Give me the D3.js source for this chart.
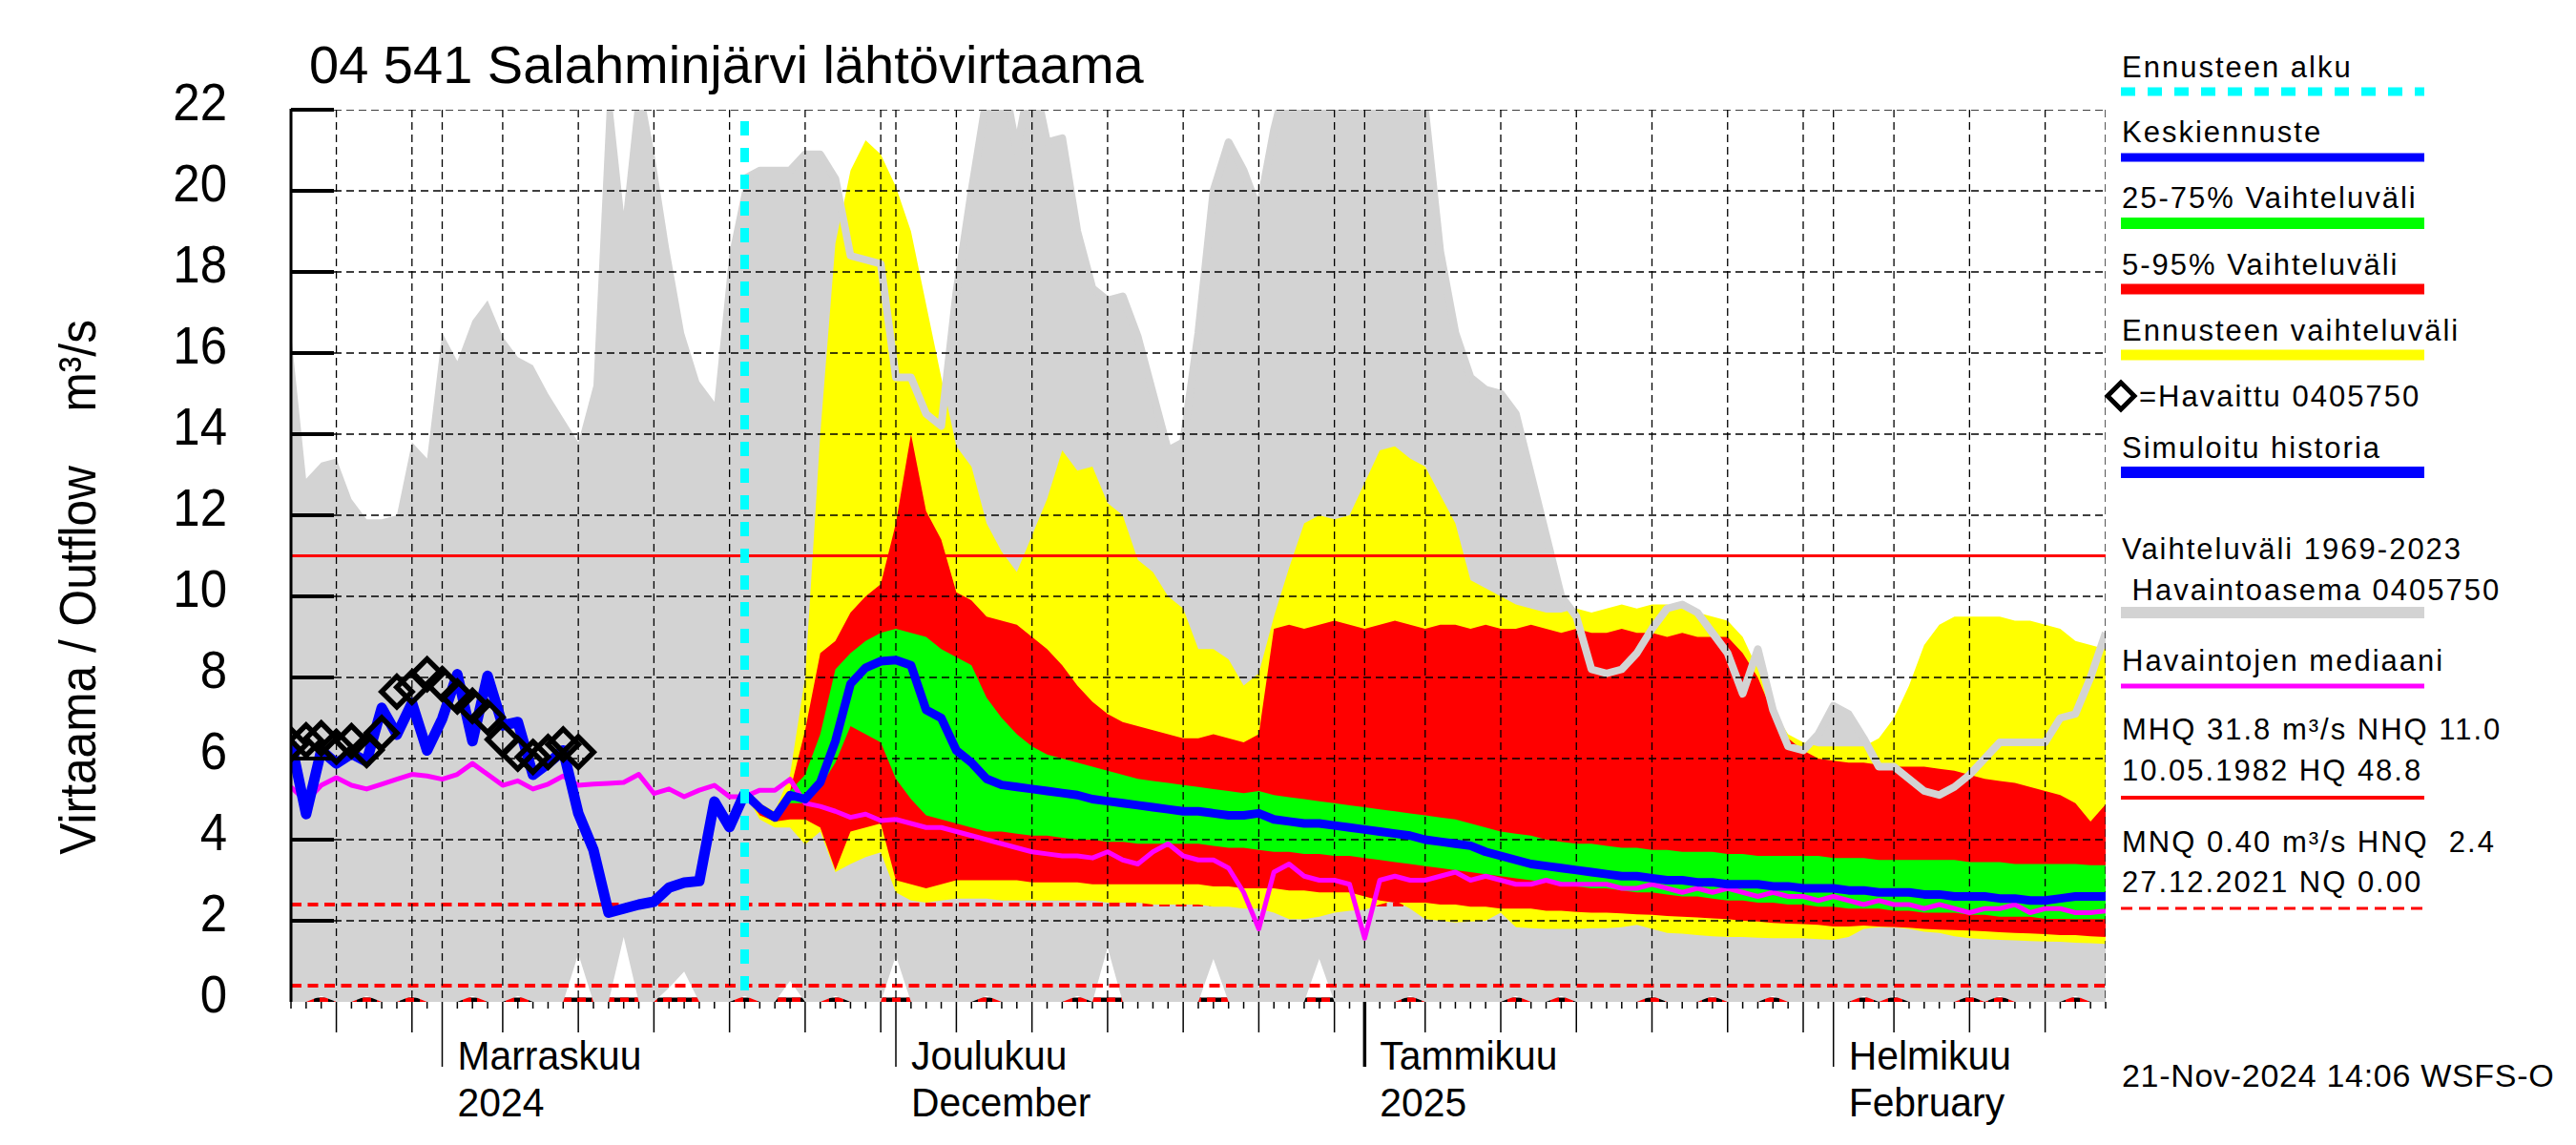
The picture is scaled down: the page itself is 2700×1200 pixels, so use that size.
<!DOCTYPE html>
<html>
<head>
<meta charset="utf-8">
<script src="https://cdn.jsdelivr.net/npm/d3@7"></script>
<style>
  body { margin: 0; background: #fff; }
  svg { display: block; }
  text { font-family: "Liberation Sans", Arial, Helvetica, sans-serif; fill: #000; white-space: pre; }
</style>
</head>
<body>
<div id="chart"></div>
<script>
// ---- data (daily values, day 0 = 22.10.2024) ----
const START = new Date(Date.UTC(2024, 9, 22));
const END = new Date(Date.UTC(2025, 1, 19));
const FC_DAY = 30; // 21.11.2024, forecast start

// Vaihteluväli 1969-2023 (max / min), day 0..120
const histMax = [16.5,12.9,13.3,13.4,12.4,11.9,11.9,12.0,13.8,13.4,
  16.5,15.8,16.8,17.3,16.4,15.9,15.7,15.0,14.4,13.8,
  15.2,23.0,19.5,23.0,21.0,18.6,16.5,15.3,14.8,18.5,
  20.3,20.5,20.5,20.5,20.9,20.9,20.3,18.4,18.3,18.2,
  15.4,15.4,14.5,14.2,17.5,20.0,22.3,23.0,21.0,23.0,
  21.2,21.3,19.0,17.6,17.3,17.4,16.4,15.0,13.6,13.8,
  16.5,20.0,21.2,20.5,19.5,21.5,23,23,23,23,
  23,23,23,23,23,22.0,18.5,16.5,15.4,15.1,
  15.0,14.5,13.0,11.5,10.0,9.5,8.2,8.1,8.2,8.6,
  9.2,9.7,9.8,9.6,9.1,8.6,7.6,8.7,7.2,6.3,
  6.2,6.6,7.3,7.1,6.5,5.8,5.8,5.5,5.2,5.1,
  5.3,5.6,6.0,6.4,6.4,6.4,6.4,7.0,7.1,8.0,
  9.1];
const histMin = [0,0,0.15,0,0,0.15,0,0,0.15,0,
  0,0,0.15,0,0,0.15,0,0,0,1.18,
  0,0,1.6,0,0,0.35,0.75,0,0,0,
  0.15,0,0,0.52,0,0,0.15,0,0,0,
  1.14,0,0,0,0,0,0.15,0,0,0,
  0,0,0.15,0,1.34,0,0,0,0,0,
  0,1.06,0,0,0,0,0,0,1.06,0,
  0,0,0,0,0.15,0,0,0,0,0,
  0,0.15,0,0,0.15,0,0,0,0,0,
  0.15,0,0,0,0.15,0,0,0,0.15,0,
  0,0,0,0,0.15,0,0.15,0,0,0,
  0,0.15,0,0.15,0,0,0,0,0.15,0,
  0];

// Havaittu 0405750, day 0..19
const observed = [6.35,6.45,6.5,6.29,6.43,6.21,6.63,7.65,7.76,8.08,
  7.84,7.53,7.3,7.02,6.47,6.12,6.04,6.16,6.35,6.16];

// Simuloitu historia, day 0..30
const simulated = [6.4,4.63,6.2,5.88,6.12,5.93,7.25,6.59,7.37,6.2,
  6.98,8.08,6.43,8.04,6.82,6.9,5.6,5.88,6.2,4.65,
  3.75,2.2,2.3,2.4,2.47,2.82,2.94,2.98,4.94,4.31,
  5.14];

// Havaintojen mediaani, day 0..120
const obsMedian = [5.3,4.94,5.34,5.53,5.34,5.25,5.37,5.49,5.61,5.57,
  5.49,5.61,5.88,5.61,5.34,5.45,5.25,5.37,5.57,5.34,
  5.37,5.39,5.41,5.61,5.14,5.25,5.06,5.22,5.34,5.06,
  5.06,5.22,5.22,5.49,4.9,4.82,4.7,4.55,4.63,4.47,
  4.5,4.4,4.3,4.3,4.2,4.1,4.0,3.9,3.8,3.7,
  3.65,3.6,3.6,3.55,3.7,3.5,3.4,3.7,3.9,3.6,
  3.5,3.5,3.3,2.7,1.8,3.2,3.4,3.1,3.0,3.0,
  2.9,1.57,3.0,3.1,3.0,3.0,3.1,3.2,3.0,3.1,
  3.0,2.9,2.9,3.0,2.9,2.9,2.9,2.9,2.8,2.8,
  2.9,2.8,2.7,2.8,2.7,2.8,2.7,2.6,2.7,2.6,
  2.6,2.5,2.6,2.5,2.4,2.5,2.4,2.4,2.3,2.4,
  2.3,2.2,2.3,2.3,2.4,2.2,2.3,2.3,2.2,2.2,
  2.24];

// forecast, day 30..120
const fcMax = [5.14,4.9,4.7,5.6,8.0,14.0,18.7,20.5,21.25,20.9,
  20.1,19.0,17.2,15.4,13.7,13.2,11.8,11.1,10.6,11.5,
  12.4,13.6,13.1,13.2,12.3,12.0,10.9,10.6,10.0,9.7,
  8.7,8.7,8.45,7.8,8.1,9.5,10.7,11.8,12.0,11.9,
  12.0,12.8,13.6,13.7,13.4,13.2,12.5,11.8,10.4,10.2,
  10.0,9.8,9.7,9.6,9.6,9.7,9.6,9.7,9.8,9.7,
  9.8,9.8,9.7,9.6,9.5,9.4,9.0,8.2,7.2,6.6,
  6.4,6.3,6.3,6.3,6.3,6.5,7.0,7.8,8.8,9.3,
  9.5,9.5,9.5,9.5,9.4,9.4,9.3,9.2,8.9,8.8,
  8.7];
const fcP95 = [5.14,4.8,4.6,5.2,6.7,8.6,8.9,9.6,10.0,10.3,
  11.8,14.0,12.1,11.4,10.1,9.9,9.5,9.4,9.3,9.0,
  8.7,8.3,7.8,7.4,7.1,6.9,6.8,6.7,6.6,6.5,
  6.5,6.6,6.5,6.4,6.6,9.2,9.3,9.2,9.3,9.4,
  9.3,9.2,9.3,9.4,9.3,9.2,9.3,9.3,9.2,9.3,
  9.2,9.2,9.3,9.2,9.1,9.2,9.1,9.1,9.2,9.1,
  9.1,9.0,9.1,9.0,9.0,9.0,8.6,8.0,7.1,6.5,
  6.2,6.0,5.95,5.9,5.9,5.85,5.8,5.8,5.8,5.75,
  5.7,5.6,5.5,5.45,5.4,5.3,5.2,5.1,4.9,4.45,
  4.87];
const fcP75 = [5.14,4.8,4.6,5.2,5.6,6.6,8.2,8.6,8.9,9.1,
  9.2,9.1,9.0,8.7,8.5,8.3,7.5,7.0,6.6,6.3,
  6.1,6.0,5.9,5.8,5.7,5.6,5.5,5.45,5.4,5.35,
  5.3,5.25,5.2,5.15,5.2,5.1,5.05,5.0,4.95,4.9,
  4.85,4.8,4.75,4.7,4.65,4.6,4.55,4.5,4.4,4.3,
  4.2,4.15,4.1,4.0,3.95,3.9,3.9,3.85,3.8,3.8,
  3.75,3.75,3.7,3.7,3.7,3.65,3.65,3.6,3.6,3.6,
  3.6,3.6,3.55,3.55,3.55,3.5,3.5,3.5,3.5,3.5,
  3.5,3.45,3.45,3.45,3.4,3.4,3.4,3.4,3.4,3.37,
  3.37];
const fcMedian = [5.14,4.78,4.55,5.1,5.0,5.41,6.43,7.84,8.24,8.4,
  8.43,8.3,7.2,7.0,6.2,5.9,5.5,5.35,5.3,5.25,
  5.2,5.15,5.1,5.0,4.95,4.9,4.85,4.8,4.75,4.7,
  4.7,4.65,4.6,4.6,4.65,4.5,4.45,4.4,4.4,4.35,
  4.3,4.25,4.2,4.15,4.1,4.0,3.95,3.9,3.85,3.7,
  3.6,3.5,3.4,3.35,3.3,3.25,3.2,3.15,3.1,3.1,
  3.05,3.0,3.0,2.95,2.95,2.9,2.9,2.9,2.85,2.85,
  2.8,2.8,2.8,2.75,2.75,2.7,2.7,2.7,2.65,2.65,
  2.6,2.6,2.6,2.55,2.55,2.5,2.5,2.55,2.6,2.6,
  2.6];
const fcP25 = [5.14,4.7,4.5,4.9,4.9,5.3,5.9,6.8,6.6,6.4,
  5.5,5.0,4.6,4.5,4.4,4.3,4.2,4.2,4.15,4.1,
  4.1,4.05,4.0,4.0,3.95,3.95,3.9,3.9,3.9,3.9,
  3.9,3.85,3.8,3.8,3.75,3.7,3.7,3.65,3.65,3.6,
  3.6,3.55,3.5,3.45,3.4,3.35,3.3,3.25,3.2,3.15,
  3.1,3.05,3.0,2.95,2.9,2.85,2.8,2.8,2.75,2.7,
  2.7,2.65,2.6,2.6,2.55,2.5,2.5,2.45,2.45,2.4,
  2.4,2.35,2.35,2.3,2.3,2.3,2.25,2.25,2.2,2.2,
  2.2,2.15,2.15,2.1,2.1,2.1,2.05,2.05,2.04,2.04,
  2.04];
const fcP05 = [5.14,4.6,4.45,4.5,4.5,4.3,3.25,4.2,4.3,4.4,
  3.0,2.9,2.8,2.9,3.0,3.0,3.0,3.0,3.0,2.95,
  2.95,2.95,2.95,2.9,2.9,2.9,2.9,2.9,2.9,2.9,
  2.9,2.85,2.85,2.8,2.8,2.8,2.75,2.75,2.7,2.7,
  2.7,2.6,2.5,2.45,2.45,2.45,2.4,2.4,2.35,2.35,
  2.3,2.3,2.3,2.25,2.25,2.22,2.2,2.2,2.18,2.16,
  2.15,2.12,2.1,2.08,2.06,2.04,2.0,1.98,1.95,1.93,
  1.92,1.9,1.86,1.86,1.88,1.86,1.85,1.83,1.8,1.78,
  1.77,1.76,1.74,1.72,1.7,1.69,1.67,1.65,1.65,1.62,
  1.6];
const fcMin = [5.14,4.5,4.3,4.3,3.88,4.2,3.2,3.4,3.57,3.69,
  2.7,2.5,2.45,2.5,2.55,2.55,2.55,2.5,2.5,2.5,
  2.5,2.5,2.5,2.5,2.45,2.45,2.45,2.4,2.4,2.4,
  2.4,2.35,2.35,2.3,2.3,2.2,2.04,2.04,2.1,2.2,
  2.25,2.27,2.4,2.5,2.3,2.04,2.0,1.96,1.98,2.0,
  2.2,1.84,1.82,1.8,1.8,1.8,1.82,1.82,1.84,1.9,
  1.8,1.7,1.68,1.65,1.62,1.6,1.6,1.58,1.57,1.57,
  1.57,1.55,1.53,1.6,1.8,1.84,1.84,1.8,1.73,1.7,
  1.62,1.57,1.55,1.53,1.52,1.5,1.49,1.48,1.46,1.45,
  1.43];

const NHQ = 11.0, HNQ = 2.4, MNQ = 0.40, NQ = 0.0;
const yTickValues = [0, 2, 4, 6, 8, 10, 12, 14, 16, 18, 20, 22];
const monthLabels = [
  { date: new Date(Date.UTC(2024, 10, 1)), lines: ["Marraskuu", "2024"] },
  { date: new Date(Date.UTC(2024, 11, 1)), lines: ["Joulukuu", "December"] },
  { date: new Date(Date.UTC(2025, 0, 1)), lines: ["Tammikuu", "2025"] },
  { date: new Date(Date.UTC(2025, 1, 1)), lines: ["Helmikuu", "February"] }
];

// ---- layout ----
const W = 2700, H = 1200;
const M = { left: 305, right: 2207, top: 115, bottom: 1050 };

const x = d3.scaleUtc().domain([START, END]).range([M.left, M.right]);
const y = d3.scaleLinear().domain([0, 22]).range([M.bottom, M.top]);
const dayDate = i => d3.utcDay.offset(START, i);

const svg = d3.select("#chart").append("svg").attr("width", W).attr("height", H);
svg.append("rect").attr("width", W).attr("height", H).attr("fill", "#fff");

svg.append("defs").append("clipPath").attr("id", "plotclip")
  .append("rect").attr("x", M.left).attr("y", M.top)
  .attr("width", M.right - M.left).attr("height", M.bottom - M.top);

const plot = svg.append("g").attr("clip-path", "url(#plotclip)");

function label(parent, px, py, str, size, opt = {}) {
  const t = parent.append("text")
    .attr("transform", `translate(${px},${py})${opt.rot ? ` rotate(${opt.rot})` : ""} scale(${opt.sx || 1},1)`)
    .attr("font-size", size)
    .attr("text-anchor", opt.anchor || "start")
    .text(str);
  if (opt.ls) t.attr("letter-spacing", opt.ls);
  return t;
}

const line = d3.line().x(d => x(d.d)).y(d => y(d.v));
const area = d3.area().x(d => x(d.d)).y0(d => y(d.lo)).y1(d => y(d.hi));
const pts = (arr, off) => arr.map((v, i) => ({ d: dayDate(i + off), v }));
const band = (lo, hi, off) => lo.map((v, i) => ({ d: dayDate(i + off), lo: v, hi: hi[i] }));

// thick y ticks (covered later by the grey band)
svg.selectAll(".ytk").data(yTickValues.filter(v => v > 0)).enter().append("line")
  .attr("x1", M.left).attr("x2", M.left + 45)
  .attr("y1", d => y(d)).attr("y2", d => y(d))
  .attr("stroke", "#000").attr("stroke-width", 4);

// bottom axis + NQ line (under the band)
plot.append("line").attr("x1", M.left).attr("x2", M.right)
  .attr("y1", M.bottom - 2).attr("y2", M.bottom - 2)
  .attr("stroke", "#000").attr("stroke-width", 5);
plot.append("line").attr("x1", M.left).attr("x2", M.right)
  .attr("y1", y(NQ) - 2).attr("y2", y(NQ) - 2)
  .attr("stroke", "#ff0000").attr("stroke-width", 5).attr("stroke-dasharray", "9,6");

// grey historical range
plot.append("path").datum(band(histMin, histMax, 0))
  .attr("d", area).attr("fill", "#d3d3d3");

// MNQ and HNQ dashed lines
[MNQ, HNQ].forEach(v => {
  plot.append("line").attr("x1", M.left).attr("x2", M.right)
    .attr("y1", y(v)).attr("y2", y(v))
    .attr("stroke", "#ff0000").attr("stroke-width", 4).attr("stroke-dasharray", "11,6.5");
});

// forecast bands
plot.append("path").datum(band(fcMin, fcMax, FC_DAY)).attr("d", area).attr("fill", "#ffff00");
plot.append("path").datum(band(fcP05, fcP95, FC_DAY)).attr("d", area).attr("fill", "#ff0000");
plot.append("path").datum(band(fcP25, fcP75, FC_DAY)).attr("d", area).attr("fill", "#00ff00");

// upper edge of the grey range over the forecast
plot.append("path").datum(pts(histMax.slice(FC_DAY), FC_DAY))
  .attr("d", line).attr("fill", "none").attr("stroke", "#d3d3d3")
  .attr("stroke-width", 8).attr("stroke-linejoin", "round");

// grid
const grid = plot.append("g").attr("stroke", "#000").attr("stroke-width", 1.3).attr("stroke-dasharray", "8,5");
yTickValues.filter(v => v > 0).forEach(v => {
  grid.append("line").attr("x1", M.left + 45).attr("x2", M.right).attr("y1", y(v)).attr("y2", y(v));
});
const days = d3.utcDay.range(START, d3.utcDay.offset(END, 1));
const isMark = d => [1, 5, 10, 15, 20, 25, 30].includes(d.getUTCDate());
days.filter(isMark).forEach(d => {
  grid.append("line").attr("x1", x(d)).attr("x2", x(d)).attr("y1", M.top).attr("y2", M.bottom);
});
grid.append("line").attr("x1", M.right).attr("x2", M.right).attr("y1", M.top).attr("y2", M.bottom);

// thin solid y ticks
svg.selectAll(".ytk2").data(yTickValues.filter(v => v > 0)).enter().append("line")
  .attr("x1", M.left).attr("x2", M.left + 45)
  .attr("y1", d => y(d)).attr("y2", d => y(d))
  .attr("stroke", "#000").attr("stroke-width", 1.5);

// NHQ line
plot.append("line").attr("x1", M.left).attr("x2", M.right)
  .attr("y1", y(NHQ)).attr("y2", y(NHQ))
  .attr("stroke", "#ff0000").attr("stroke-width", 3);

// forecast start
svg.append("line").attr("x1", x(dayDate(FC_DAY))).attr("x2", x(dayDate(FC_DAY)))
  .attr("y1", 127).attr("y2", M.bottom)
  .attr("stroke", "#00ffff").attr("stroke-width", 9).attr("stroke-dasharray", "15,13");

// median of observations
plot.append("path").datum(pts(obsMedian, 0)).attr("d", line)
  .attr("fill", "none").attr("stroke", "#ff00ff").attr("stroke-width", 5).attr("stroke-linejoin", "round");

// simulated history + forecast median
plot.append("path").datum(pts(simulated, 0)).attr("d", line)
  .attr("fill", "none").attr("stroke", "#0000ff").attr("stroke-width", 11).attr("stroke-linejoin", "round");
plot.append("path").datum(pts(fcMedian, FC_DAY)).attr("d", line)
  .attr("fill", "none").attr("stroke", "#0000ff").attr("stroke-width", 9).attr("stroke-linejoin", "round");

// observed diamonds
const diamond = (cx, cy, h) => `M${cx},${cy - h}L${cx + h},${cy}L${cx},${cy + h}L${cx - h},${cy}Z`;
plot.selectAll(".obs").data(pts(observed, 0)).enter().append("path")
  .attr("d", d => diamond(x(d.d), y(d.v), 16))
  .attr("fill", "none").attr("stroke", "#000").attr("stroke-width", 5.5);

// axes
svg.append("line").attr("x1", M.left).attr("x2", M.left).attr("y1", M.top - 1).attr("y2", M.bottom)
  .attr("stroke", "#000").attr("stroke-width", 3);
yTickValues.forEach(v => label(svg, 238, y(v) + 11, String(v), 56, { anchor: "end", sx: 0.91 }));

days.forEach(d => {
  const dd = d.getUTCDate();
  let len = 7, w = 1.5;
  if (dd === 1) { len = 68; }
  else if ([5, 10, 15, 20, 25, 30].includes(dd)) { len = 32; }
  if (dd === 1 && d.getUTCMonth() === 0) w = 3.5;
  svg.append("line").attr("x1", x(d)).attr("x2", x(d))
    .attr("y1", M.bottom).attr("y2", M.bottom + len)
    .attr("stroke", "#000").attr("stroke-width", w);
});
monthLabels.forEach(m => {
  label(svg, x(m.date) + 16, 1121, m.lines[0], 43, { sx: 0.95 });
  label(svg, x(m.date) + 16, 1170, m.lines[1], 43, { sx: 0.95 });
});

label(svg, 100, 488, "Virtaama / Outflow", 54, { rot: -90, anchor: "end", sx: 0.92 });
label(svg, 100, 335, "m³/s", 54, { rot: -90, anchor: "end", sx: 0.92 });

// title
label(svg, 324, 87, "04 541 Salahminjärvi lähtövirtaama", 56);

// legend
const LX1 = 2223, LX2 = 2541, LT = 2224;
const legendItems = [
  { texts: [["Ennusteen alku", 81]], ly: 96, color: "#00ffff", w: 9, dash: "15,13" },
  { texts: [["Keskiennuste", 149]], ly: 165, color: "#0000ff", w: 9 },
  { texts: [["25-75% Vaihteluväli", 218]], ly: 234, color: "#00ff00", w: 12 },
  { texts: [["5-95% Vaihteluväli", 288]], ly: 303, color: "#ff0000", w: 11 },
  { texts: [["Ennusteen vaihteluväli", 357]], ly: 372, color: "#ffff00", w: 11 },
  { texts: [["Simuloitu historia", 480]], ly: 495, color: "#0000ff", w: 12 },
  { texts: [["Vaihteluväli 1969-2023", 586], [" Havaintoasema 0405750", 629]], ly: 642, color: "#d3d3d3", w: 12 },
  { texts: [["Havaintojen mediaani", 703]], ly: 719, color: "#ff00ff", w: 5 },
  { texts: [["MHQ 31.8 m³/s NHQ 11.0", 775], ["10.05.1982 HQ 48.8", 818]], ly: 836, color: "#ff0000", w: 4 },
  { texts: [["MNQ 0.40 m³/s HNQ  2.4", 893], ["27.12.2021 NQ 0.00", 935]], ly: 952, color: "#ff0000", w: 3, dash: "12,7" }
];
const leg = svg.append("g");
legendItems.forEach(it => {
  it.texts.forEach(([s, ty]) => label(leg, LT, ty, s, 31, { ls: 2 }));
  leg.append("line").attr("x1", LX1).attr("x2", LX2).attr("y1", it.ly).attr("y2", it.ly)
    .attr("stroke", it.color).attr("stroke-width", it.w)
    .attr("stroke-dasharray", it.dash || null);
});
leg.append("path").attr("d", diamond(2223, 415, 14))
  .attr("fill", "#fff").attr("stroke", "#000").attr("stroke-width", 5);
label(leg, 2242, 426, "=Havaittu 0405750", 31, { ls: 2 });

// timestamp
label(svg, 2224, 1139, "21-Nov-2024 14:06 WSFS-O", 34, { ls: 0.7 });
</script>
</body>
</html>
